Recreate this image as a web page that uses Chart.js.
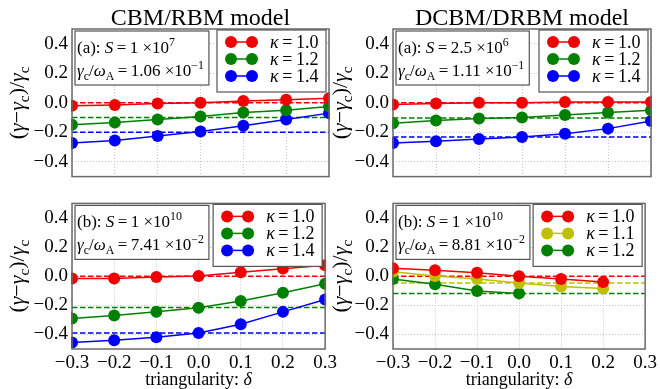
<!DOCTYPE html>
<html>
<head>
<meta charset="utf-8">
<script src="https://cdn.jsdelivr.net/npm/chart.js@4"></script>
<style>
  html, body { margin: 0; padding: 0; background: #fff; }
  #wrap { position: relative; width: 660px; height: 389px; overflow: hidden; }
  canvas { position: absolute; }
</style>
</head>
<body>
<div id="wrap">
  <canvas id="tl" width="335" height="192" style="left:0px;top:0px"></canvas>
  <canvas id="bl" width="340" height="201" style="left:0px;top:188px"></canvas>
  <canvas id="tr" width="330" height="192" style="left:330px;top:0px"></canvas>
  <canvas id="br" width="330" height="201" style="left:330px;top:188px"></canvas>
</div>
<script>
const delta = [-0.3, -0.2, -0.1, 0.0, 0.1, 0.2, 0.3];
const xTicks = [-0.3, -0.2, -0.1, 0.0, 0.1, 0.2, 0.3];
const yTicks = [-0.4, -0.2, 0.0, 0.2, 0.4];

// CBM/RBM (a) S = 1e7
const cbmA_k10 = [-0.02, -0.015, -0.005, 0.0, 0.012, 0.02, 0.03];
const cbmA_k12 = [-0.148, -0.134, -0.113, -0.093, -0.066, -0.05, -0.025];
const cbmA_k14 = [-0.272, -0.256, -0.225, -0.194, -0.155, -0.113, -0.07];
const cbmA_ref = [0.0, -0.1, -0.2];

// DCBM/DRBM (a) S = 2.5e6
const dcbmA_k10 = [-0.012, -0.005, 0.0, 0.0, 0.005, 0.005, 0.005];
const dcbmA_k12 = [-0.138, -0.12, -0.107, -0.1, -0.082, -0.066, -0.05];
const dcbmA_k14 = [-0.272, -0.26, -0.245, -0.231, -0.21, -0.175, -0.124];
const dcbmA_ref = [0.0, -0.103, -0.231];

// CBM/RBM (b) S = 1e10
const cbmB_k10 = [-0.015, -0.015, -0.005, 0.002, 0.027, 0.052, 0.075];
const cbmB_k12 = [-0.29, -0.27, -0.245, -0.217, -0.17, -0.114, -0.052];
const cbmB_k14 = [-0.456, -0.44, -0.42, -0.39, -0.33, -0.245, -0.16];
const cbmB_ref = [0.0, -0.215, -0.39];

// DCBM/DRBM (b) S = 1e10
const dcbmB_k10 = [0.054, 0.041, 0.023, 0.0, -0.019, -0.04];
const dcbmB_k11 = [0.03, 0.002, -0.019, -0.046, -0.07, -0.085];
const dcbmB_k12 = [-0.019, -0.056, -0.101, -0.118];
const dcbmB_ref = [0.0, -0.046, -0.118];

const kappaA = ['1.0', '1.2', '1.4'];
const kappaB = ['1.0', '1.1', '1.2'];
const colorsA = ['#f00000', '#008000', '#0000ff'];
const colorsB = ['#f00000', '#bfbf00', '#008000'];

const titles = ['CBM/RBM model', 'DCBM/DRBM model'];
const annTL = [[{t:'(a): '},{t:'S',it:1},{t:'\u2009=\u20091 ×10'},{t:'7',sup:1}],
               [{t:'γ',it:1},{t:'c',sub:1},{t:'/'},{t:'ω',it:1},{t:'A',sub:1},{t:'\u2009=\u20091.06 ×10'},{t:'−1',sup:1}]];
const annTR = [[{t:'(a): '},{t:'S',it:1},{t:'\u2009=\u20092.5 ×10'},{t:'6',sup:1}],
               [{t:'γ',it:1},{t:'c',sub:1},{t:'/'},{t:'ω',it:1},{t:'A',sub:1},{t:'\u2009=\u20091.11 ×10'},{t:'−1',sup:1}]];
const annBL = [[{t:'(b): '},{t:'S',it:1},{t:'\u2009=\u20091 ×10'},{t:'10',sup:1}],
               [{t:'γ',it:1},{t:'c',sub:1},{t:'/'},{t:'ω',it:1},{t:'A',sub:1},{t:'\u2009=\u20097.41 ×10'},{t:'−2',sup:1}]];
const annBR = [[{t:'(b): '},{t:'S',it:1},{t:'\u2009=\u20091 ×10'},{t:'10',sup:1}],
               [{t:'γ',it:1},{t:'c',sub:1},{t:'/'},{t:'ω',it:1},{t:'A',sub:1},{t:'\u2009=\u20098.81 ×10'},{t:'−2',sup:1}]];
const yTitle = [{t:'('},{t:'γ',it:1},{t:'−'},{t:'γ',it:1},{t:'c',sub:1},{t:')/'},{t:'γ',it:1},{t:'c',sub:1}];
const xTitle = [{t:'triangularity: '},{t:'δ',it:1}];

const FONT = '"Liberation Serif", "DejaVu Serif", serif';

function richWidth(ctx, segs, size) {
  let w = 0;
  for (const s of segs) {
    const fs = (s.sub || s.sup) ? size * 0.7 : size;
    ctx.font = (s.it ? 'italic ' : '') + fs + 'px ' + FONT;
    w += ctx.measureText(s.t).width;
  }
  return w;
}

function drawRich(ctx, segs, x, y, size) {
  let cx = x;
  ctx.textAlign = 'left';
  ctx.textBaseline = 'alphabetic';
  for (const s of segs) {
    const fs = (s.sub || s.sup) ? size * 0.7 : size;
    ctx.font = (s.it ? 'italic ' : '') + fs + 'px ' + FONT;
    const dy = s.sub ? size * 0.22 : s.sup ? -size * 0.42 : 0;
    ctx.fillText(s.t, cx, y + dy);
    cx += ctx.measureText(s.t).width;
  }
  return cx - x;
}

function marker(ctx, x, y, c) {
  ctx.beginPath();
  ctx.arc(x, y, 6, 0, Math.PI * 2);
  ctx.fillStyle = c;
  ctx.fill();
}

const deco = {
  id: 'deco',
  afterDraw(chart, args, o) {
    const { ctx, chartArea: a } = chart;
    ctx.save();
    ctx.strokeStyle = '#6a6a6a';
    ctx.lineWidth = 1.5;
    ctx.strokeRect(a.left, a.top, a.right - a.left, a.bottom - a.top);
    ctx.fillStyle = '#000';
    if (o.title) {
      ctx.font = '24px ' + FONT;
      ctx.textAlign = 'center';
      ctx.textBaseline = 'alphabetic';
      ctx.fillText(o.title, (a.left + a.right) / 2, a.top - 4);
    }
    ctx.save();
    ctx.translate(o.yTitleX, (a.top + a.bottom) / 2);
    ctx.rotate(-Math.PI / 2);
    ctx.fillStyle = '#000';
    const yw = richWidth(ctx, yTitle, 22);
    drawRich(ctx, yTitle, -yw / 2, 0, 22);
    ctx.restore();
    if (o.xTitle) {
      const xw = richWidth(ctx, xTitle, 18);
      ctx.fillStyle = '#000';
      drawRich(ctx, xTitle, (a.left + a.right) / 2 - xw / 2, a.bottom + 36, 18);
    }
    // annotation box
    const aw = Math.max(richWidth(ctx, o.ann[0], 17), richWidth(ctx, o.ann[1], 17)) + 7;
    ctx.fillStyle = '#fff';
    ctx.fillRect(a.left + 3, a.top + 2, aw, 54);
    ctx.strokeStyle = '#555';
    ctx.lineWidth = 1.2;
    ctx.strokeRect(a.left + 3, a.top + 2, aw, 54);
    ctx.fillStyle = '#000';
    drawRich(ctx, o.ann[0], a.left + 5, a.top + 24, 17);
    drawRich(ctx, o.ann[1], a.left + 5, a.top + 47, 17);
    // legend
    const lx = a.right - 112, ly = a.top + 1;
    ctx.fillStyle = '#fff';
    ctx.fillRect(lx, ly, 109, 62);
    ctx.strokeStyle = '#555';
    ctx.strokeRect(lx, ly, 109, 62);
    const shown = chart.data.datasets.filter(d => d.label);
    shown.forEach((d, i) => {
      const y = ly + 12 + i * 17;
      ctx.strokeStyle = d.borderColor;
      ctx.lineWidth = 1.5;
      ctx.beginPath();
      ctx.moveTo(lx + 14, y);
      ctx.lineTo(lx + 35, y);
      ctx.stroke();
      marker(ctx, lx + 14, y, d.borderColor);
      marker(ctx, lx + 35, y, d.borderColor);
      ctx.fillStyle = '#000';
      drawRich(ctx, [{t:'κ',it:1},{t:'\u2009=\u2009' + d.label}], lx + 53, y + 6, 18);
    });
    ctx.restore();
  }
};

function fmt(v) {
  if (Math.abs(v) < 1e-9) return '0.0';
  return (v < 0 ? '−' : '') + Math.abs(v).toFixed(1);
}

function makePanel(id, series, kappas, colors, refs, opt) {
  const datasets = [];
  series.forEach((vals, i) => {
    datasets.push({
      label: kappas[i],
      data: vals.map((v, j) => ({ x: delta[j], y: v })),
      borderColor: colors[i],
      backgroundColor: colors[i],
      borderWidth: 1.5,
      pointRadius: 6,
      pointBorderWidth: 0,
      pointHoverRadius: 6,
      clip: 1
    });
  });
  refs.forEach((r, i) => {
    datasets.push({
      label: '',
      data: [{ x: -0.3, y: r }, { x: 0.3, y: r }],
      borderColor: colors[i],
      borderWidth: 1.5,
      borderDash: [5.5, 2.5],
      pointRadius: 0,
      clip: 0
    });
  });
  return new Chart(document.getElementById(id), {
    type: 'line',
    data: { datasets },
    options: {
      responsive: false,
      animation: false,
      devicePixelRatio: 1,
      layout: { padding: opt.padding },
      plugins: {
        legend: { display: false },
        tooltip: { enabled: false },
        deco: { title: opt.title, ann: opt.ann, yTitleX: opt.yTitleX, xTitle: opt.bottom }
      },
      scales: {
        x: {
          type: 'linear',
          min: -0.3,
          max: 0.3,
          afterBuildTicks: s => { s.ticks = xTicks.map(v => ({ value: v })); },
          afterFit: s => { s.height = opt.bottom ? 40 : 0; },
          grid: { color: '#c4c4c4', lineWidth: 1, drawTicks: false },
          border: { display: false, dash: [1, 2] },
          ticks: { display: opt.bottom, padding: 3, color: '#000', font: { family: FONT, size: 19 }, callback: v => fmt(v) }
        },
        y: {
          min: -0.5,
          max: 0.5,
          afterBuildTicks: s => { s.ticks = yTicks.map(v => ({ value: v })); },
          afterFit: s => { s.width = opt.yWidth; },
          grid: { color: '#c4c4c4', lineWidth: 1, drawTicks: false },
          border: { display: false, dash: [1, 2] },
          ticks: { padding: 4, color: '#000', font: { family: FONT, size: 19 }, callback: v => fmt(v) }
        }
      }
    },
    plugins: [deco]
  });
}

makePanel('tl', [cbmA_k10, cbmA_k12, cbmA_k14], kappaA, colorsA, cbmA_ref,
  { padding: { top: 29, right: 6, bottom: 3, left: 0 }, yWidth: 72, title: titles[0], ann: annTL, yTitleX: 24, bottom: false });
makePanel('tr', [dcbmA_k10, dcbmA_k12, dcbmA_k14], kappaA, colorsA, dcbmA_ref,
  { padding: { top: 29, right: 9, bottom: 3, left: 0 }, yWidth: 63, title: titles[1], ann: annTR, yTitleX: 17, bottom: false });
makePanel('bl', [cbmB_k10, cbmB_k12, cbmB_k14], kappaA, colorsA, cbmB_ref,
  { padding: { top: 0, right: 11, bottom: 0, left: 0 }, yWidth: 72, title: '', ann: annBL, yTitleX: 24, bottom: true });
makePanel('br', [dcbmB_k10, dcbmB_k11, dcbmB_k12], kappaB, colorsB, dcbmB_ref,
  { padding: { top: 0, right: 9, bottom: 0, left: 0 }, yWidth: 63, title: '', ann: annBR, yTitleX: 17, bottom: true });
</script>
</body>
</html>
